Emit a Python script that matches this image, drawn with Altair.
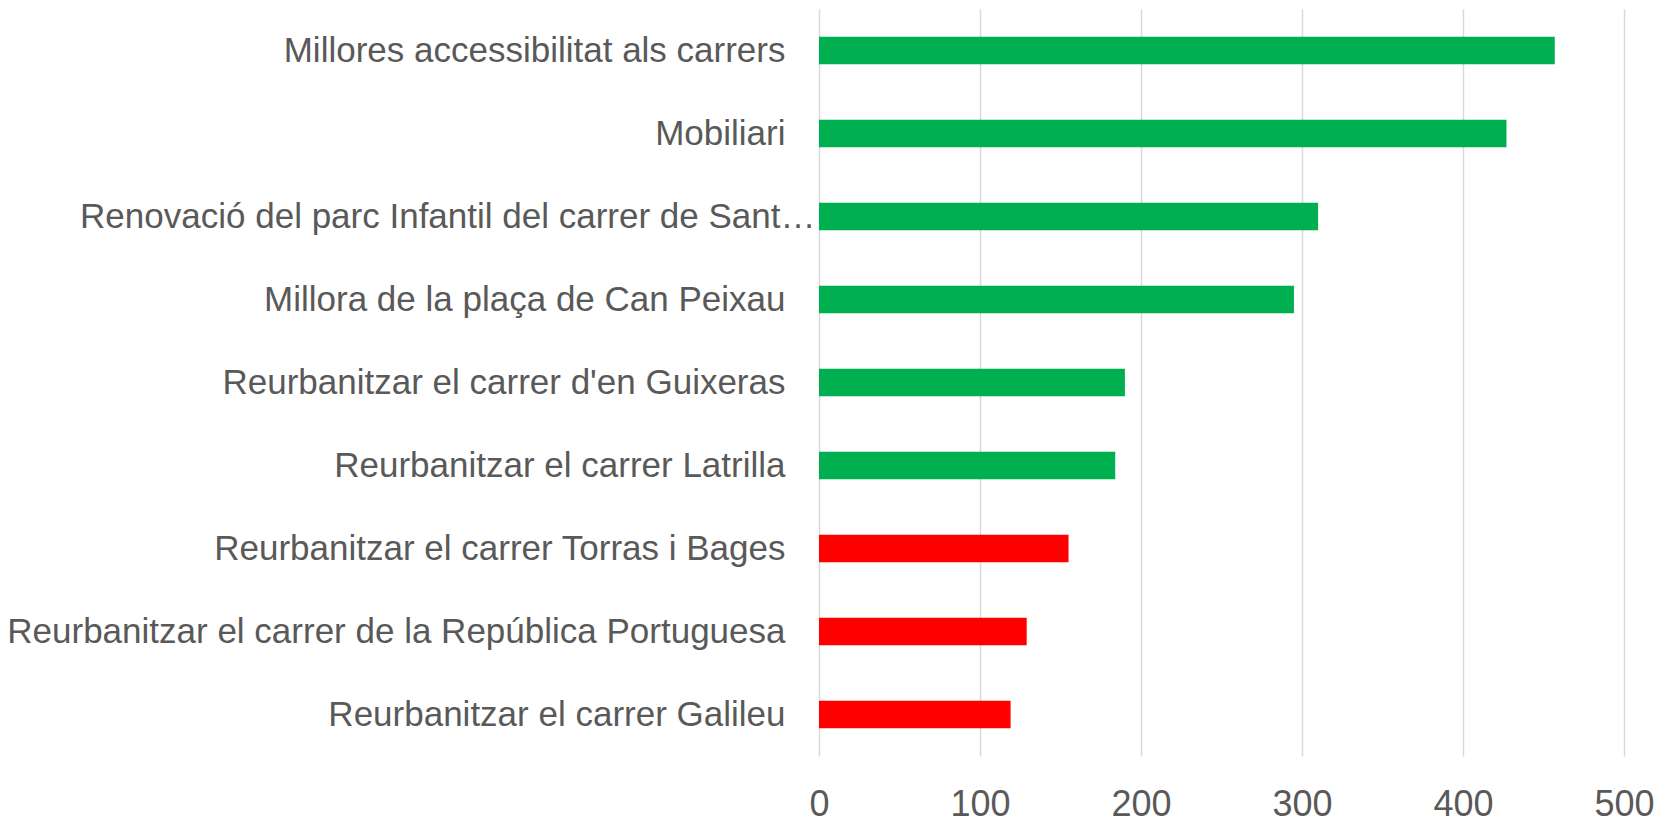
import altair as alt
import pandas as pd

categories = [
    "Millores accessibilitat als carrers",
    "Mobiliari",
    "Renovació del parc Infantil del carrer de Sant…",
    "Millora de la plaça de Can Peixau",
    "Reurbanitzar el carrer d'en Guixeras",
    "Reurbanitzar el carrer Latrilla",
    "Reurbanitzar el carrer Torras i Bages",
    "Reurbanitzar el carrer de la República Portuguesa",
    "Reurbanitzar el carrer Galileu",
]
values = [457, 427, 310, 295, 190, 184, 155, 129, 119]
status = ["sí", "sí", "sí", "sí", "sí", "sí", "no", "no", "no"]
x_ticks = [0, 100, 200, 300, 400, 500]

df = pd.DataFrame({"cat": categories, "val": values, "status": status})

truncated = categories[2]

chart = alt.Chart(df).mark_bar().encode(
    y=alt.Y("cat:N", sort=categories, title=None,
            scale=alt.Scale(paddingInner=0.67, paddingOuter=0.335),
            axis=alt.Axis(labelFontSize=35, labelColor="#595959", labelFont="Liberation Sans",
                          labelPadding={"condition": {"test": f"datum.value == '{truncated}'", "value": 4},
                                        "value": 34},
                          ticks=False, domain=False, labelLimit=1000, grid=False)),
    x=alt.X("val:Q", title=None,
            scale=alt.Scale(domain=[0, 500], nice=False),
            axis=alt.Axis(values=x_ticks, labelFontSize=36, labelColor="#595959",
                          labelFont="Liberation Sans", labelBaseline="alphabetic",
                          labelFlush=False, labelPadding=59, ticks=False,
                          domain=False, grid=True, gridColor="#D9D9D9", gridWidth=1.5)),
    color=alt.Color("status:N", scale=alt.Scale(domain=["sí", "no"], range=["#00B050", "#FF0000"]),
                    legend=None),
).properties(
    width=805, height=747,
    autosize=alt.AutoSizeParams(type="none"),
    padding={"left": 811, "top": 1, "right": 36, "bottom": 68},
).configure(background="white").configure_view(stroke=None)

chart.save("out.html", embed_options={"renderer": "svg", "actions": False})
